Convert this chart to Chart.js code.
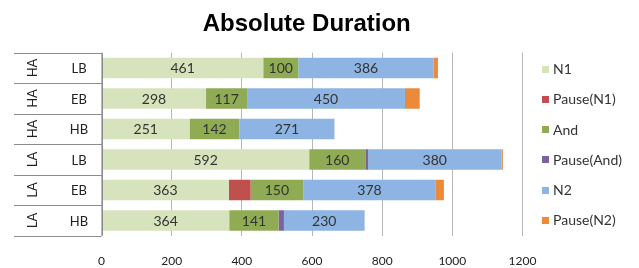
<!DOCTYPE html>
<html>
<head>
<meta charset="utf-8">
<script src="https://cdn.jsdelivr.net/npm/chart.js@4/dist/chart.umd.min.js"></script>
<style>
  html, body { margin: 0; padding: 0; background: #fff; }
  #wrap { width: 639px; height: 268px; }
</style>
</head>
<body>
<div id="wrap"><canvas id="chart" width="639" height="268"></canvas></div>
<script>
// rows, top to bottom
const groups = ['HA', 'HA', 'HA', 'LA', 'LA', 'LA'];
const categories = ['LB', 'EB', 'HB', 'LB', 'EB', 'HB'];

const n1 = [461, 298, 251, 592, 363, 364];
const pauseN1 = [0, 0, 0, 0, 62, 0];
const and = [100, 117, 142, 160, 150, 141];
const pauseAnd = [0, 0, 0, 8, 0, 15];
const n2 = [386, 450, 271, 380, 378, 230];
const pauseN2 = [12, 42, 0, 4, 23, 0];

const xTicks = [0, 200, 400, 600, 800, 1000, 1200];

// only these series get a number in the bar
const labelled = ['N1', 'And', 'N2'];

Chart.defaults.font.family = 'Lato';
Chart.defaults.color = '#333';

// the two-level category table on the left
const tablePlugin = {
  id: 'table',
  afterDraw(chart) {
    const { ctx, chartArea, scales: { y } } = chart;
    const half = Math.abs(y.getPixelForValue(1) - y.getPixelForValue(0)) / 2;
    ctx.save();
    ctx.strokeStyle = '#8c8c8c';
    ctx.lineWidth = 1;
    ctx.beginPath();
    groups.forEach((g, i) => {
      const c = y.getPixelForValue(i);
      [c - half, c + half].forEach(p => {
        const yy = Math.round(p) + 0.5;
        ctx.moveTo(14, yy);
        ctx.lineTo(chartArea.left, yy);
      });
    });
    const lx = Math.round(chartArea.left) + 0.5;
    ctx.moveTo(lx, chartArea.top);
    ctx.lineTo(lx, chartArea.bottom);
    ctx.stroke();

    ctx.fillStyle = '#222';
    ctx.font = '13px Lato';
    ctx.textAlign = 'center';
    ctx.textBaseline = 'middle';
    chart.data.labels.forEach((lab, i) => {
      const c = y.getPixelForValue(i);
      ctx.fillText(lab, 79, c + 1);
      ctx.save();
      ctx.translate(33, c);
      ctx.rotate(-Math.PI / 2);
      ctx.fillText(groups[i], 0, 0);
      ctx.restore();
    });
    ctx.restore();
  }
};

const valuePlugin = {
  id: 'values',
  afterDatasetsDraw(chart) {
    const ctx = chart.ctx;
    ctx.save();
    ctx.font = '14px Lato';
    ctx.fillStyle = '#333';
    ctx.textAlign = 'center';
    ctx.textBaseline = 'middle';
    chart.data.datasets.forEach((ds, di) => {
      if (!labelled.includes(ds.label)) return;
      chart.getDatasetMeta(di).data.forEach((el, i) => {
        const { x, y, base } = el.getProps(['x', 'y', 'base'], true);
        ctx.fillText(ds.data[i], (x + base) / 2, y + 1);
      });
    });
    ctx.restore();
  }
};

// legend on the right, one item per series
const legendPlugin = {
  id: 'sideLegend',
  afterDraw(chart) {
    const { ctx, chartArea } = chart;
    const sets = chart.data.datasets;
    const step = 30.2;
    const mid = (chartArea.top + chartArea.bottom) / 2;
    const first = mid - step * (sets.length - 1) / 2;
    ctx.save();
    ctx.font = '14px Lato';
    ctx.textAlign = 'left';
    ctx.textBaseline = 'middle';
    sets.forEach((ds, i) => {
      const cy = first + i * step;
      ctx.fillStyle = ds.backgroundColor;
      ctx.fillRect(542, Math.round(cy) - 3, 7, 7);
      ctx.fillStyle = '#333';
      ctx.fillText(ds.label, 553, cy + 1);
    });
    ctx.restore();
  }
};

new Chart(document.getElementById('chart'), {
  type: 'bar',
  data: {
    labels: categories,
    datasets: [
      { label: 'N1', data: n1, backgroundColor: '#d7e3bd' },
      { label: 'Pause(N1)', data: pauseN1, backgroundColor: '#c0504d' },
      { label: 'And', data: and, backgroundColor: '#8fac55' },
      { label: 'Pause(And)', data: pauseAnd, backgroundColor: '#7d62a0' },
      { label: 'N2', data: n2, backgroundColor: '#8db4e2' },
      { label: 'Pause(N2)', data: pauseN2, backgroundColor: '#ec8a3c' }
    ]
  },
  options: {
    indexAxis: 'y',
    responsive: false,
    animation: false,
    // left padding keeps the title centred where the original had it
    layout: { padding: { left: 91, right: 116.5, top: 0, bottom: 0 } },
    datasets: { bar: { categoryPercentage: 1, barPercentage: 0.67 } },
    scales: {
      x: {
        stacked: true,
        min: 0,
        max: 1200,
        afterBuildTicks: s => { s.ticks = xTicks.map(v => ({ value: v })); },
        afterFit: s => { s.height = 32.3; },
        grid: { color: '#b8b8b8', drawTicks: false, tickLength: 0 },
        border: { display: false },
        ticks: { padding: 18, font: { size: 12 }, color: '#222', callback: v => String(v) }
      },
      y: {
        stacked: true,
        afterFit: s => { s.width = 10.5; },
        grid: { display: false },
        border: { display: false },
        ticks: { display: false }
      }
    },
    plugins: {
      title: {
        display: true,
        text: 'Absolute Duration',
        color: '#000',
        font: { family: 'Liberation Sans', size: 24, weight: 'bold' },
        padding: { top: 10, bottom: 13.9 }
      },
      legend: { display: false },
      tooltip: { enabled: false }
    }
  },
  plugins: [tablePlugin, valuePlugin, legendPlugin]
});
</script>
</body>
</html>
